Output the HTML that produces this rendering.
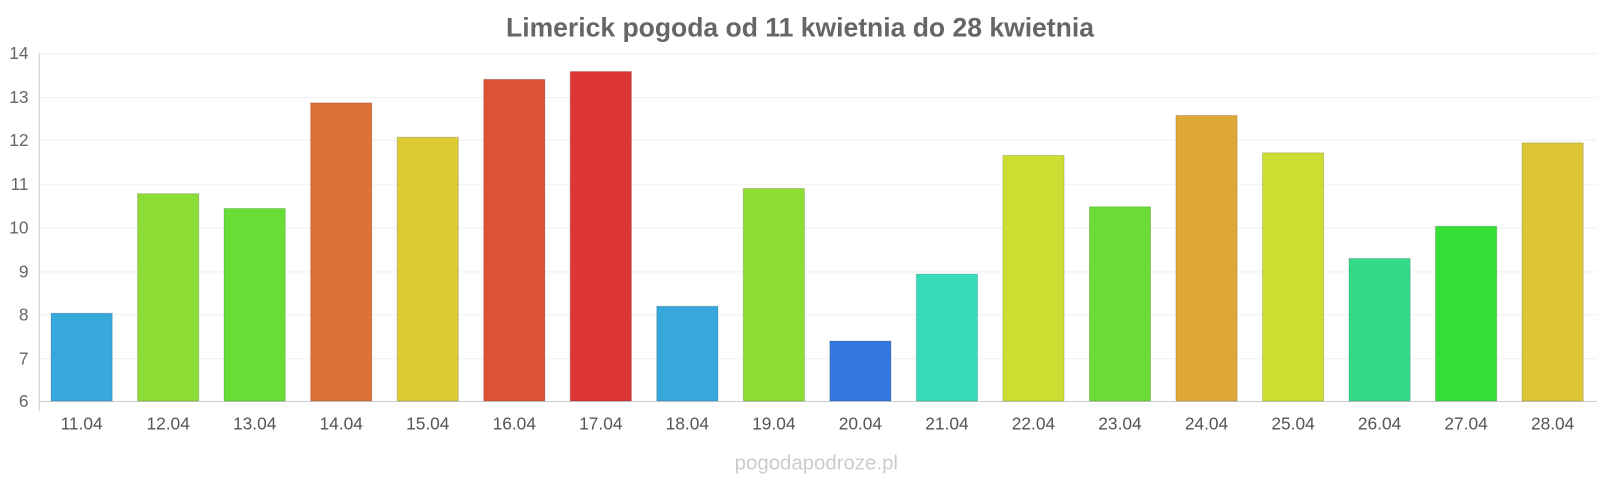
<!DOCTYPE html>
<html><head><meta charset="utf-8"><style>
body{margin:0;background:#fff;}
text{font-family:"Liberation Sans",sans-serif;}
</style></head><body>
<svg width="1600" height="480" xmlns="http://www.w3.org/2000/svg">
<g transform="scale(1.0204)">
<text x="784" y="36" text-anchor="middle" font-size="26" font-weight="bold" fill="#666">Limerick pogoda od 11 kwietnia do 28 kwietnia</text>
<g stroke="#f0f0f0" stroke-width="1">
<line x1="38" x2="1565" y1="52.5" y2="52.5"/><line x1="38" x2="1565" y1="95.5" y2="95.5"/>
<line x1="38" x2="1565" y1="137.5" y2="137.5"/><line x1="38" x2="1565" y1="180.5" y2="180.5"/>
<line x1="38" x2="1565" y1="223.5" y2="223.5"/><line x1="38" x2="1565" y1="266.5" y2="266.5"/>
<line x1="38" x2="1565" y1="308.5" y2="308.5"/><line x1="38" x2="1565" y1="351.5" y2="351.5"/>
</g>
<line x1="38.5" x2="38.5" y1="52" y2="403" stroke="#ccc"/>
<line x1="38" x2="1565" y1="393.5" y2="393.5" stroke="#ccc"/>
<g font-size="17" fill="#666" text-anchor="end">
<text x="28" y="58">14</text><text x="28" y="101">13</text><text x="28" y="143">12</text>
<text x="28" y="186">11</text><text x="28" y="229">10</text><text x="28" y="272">9</text>
<text x="28" y="314">8</text><text x="28" y="357">7</text><text x="28" y="399">6</text>
</g>
<g id="bars"></g>
<g id="labels" font-size="17" fill="#555" text-anchor="middle"></g>
<text x="800" y="460" text-anchor="middle" font-size="20" fill="#ccc">pogodapodroze.pl</text>
</g>
<script>
var v=[8.02,10.77,10.43,12.86,12.07,13.4,13.58,8.18,10.89,7.38,8.92,11.65,10.47,12.57,11.71,9.28,10.02,11.94];
var c=["#36a8dc","#8cdd36","#68dd36","#dd7136","#ddcb36","#dd5236","#dd3636","#36a8dc","#8cdd36","#3677dd","#36dcb8","#cddd32","#6cdd36","#dda836","#cddd32","#36d98a","#36dd36","#ddc736"];
var b=document.getElementById("bars"),l=document.getElementById("labels"),ns="http://www.w3.org/2000/svg";
for(var i=0;i<18;i++){var cx=80+i*84.8,y=393-(v[i]-6)*42.6;
var r=document.createElementNS(ns,"rect");r.setAttribute("x",cx-30);r.setAttribute("y",y);r.setAttribute("width",60);r.setAttribute("height",393-y);r.setAttribute("fill",c[i]);r.setAttribute("stroke","rgba(0,0,0,0.15)");b.appendChild(r);
var t=document.createElementNS(ns,"text");t.setAttribute("x",cx);t.setAttribute("y",421);t.textContent=(11+i)+".04";l.appendChild(t);}
</script>
</svg>
</body></html>
